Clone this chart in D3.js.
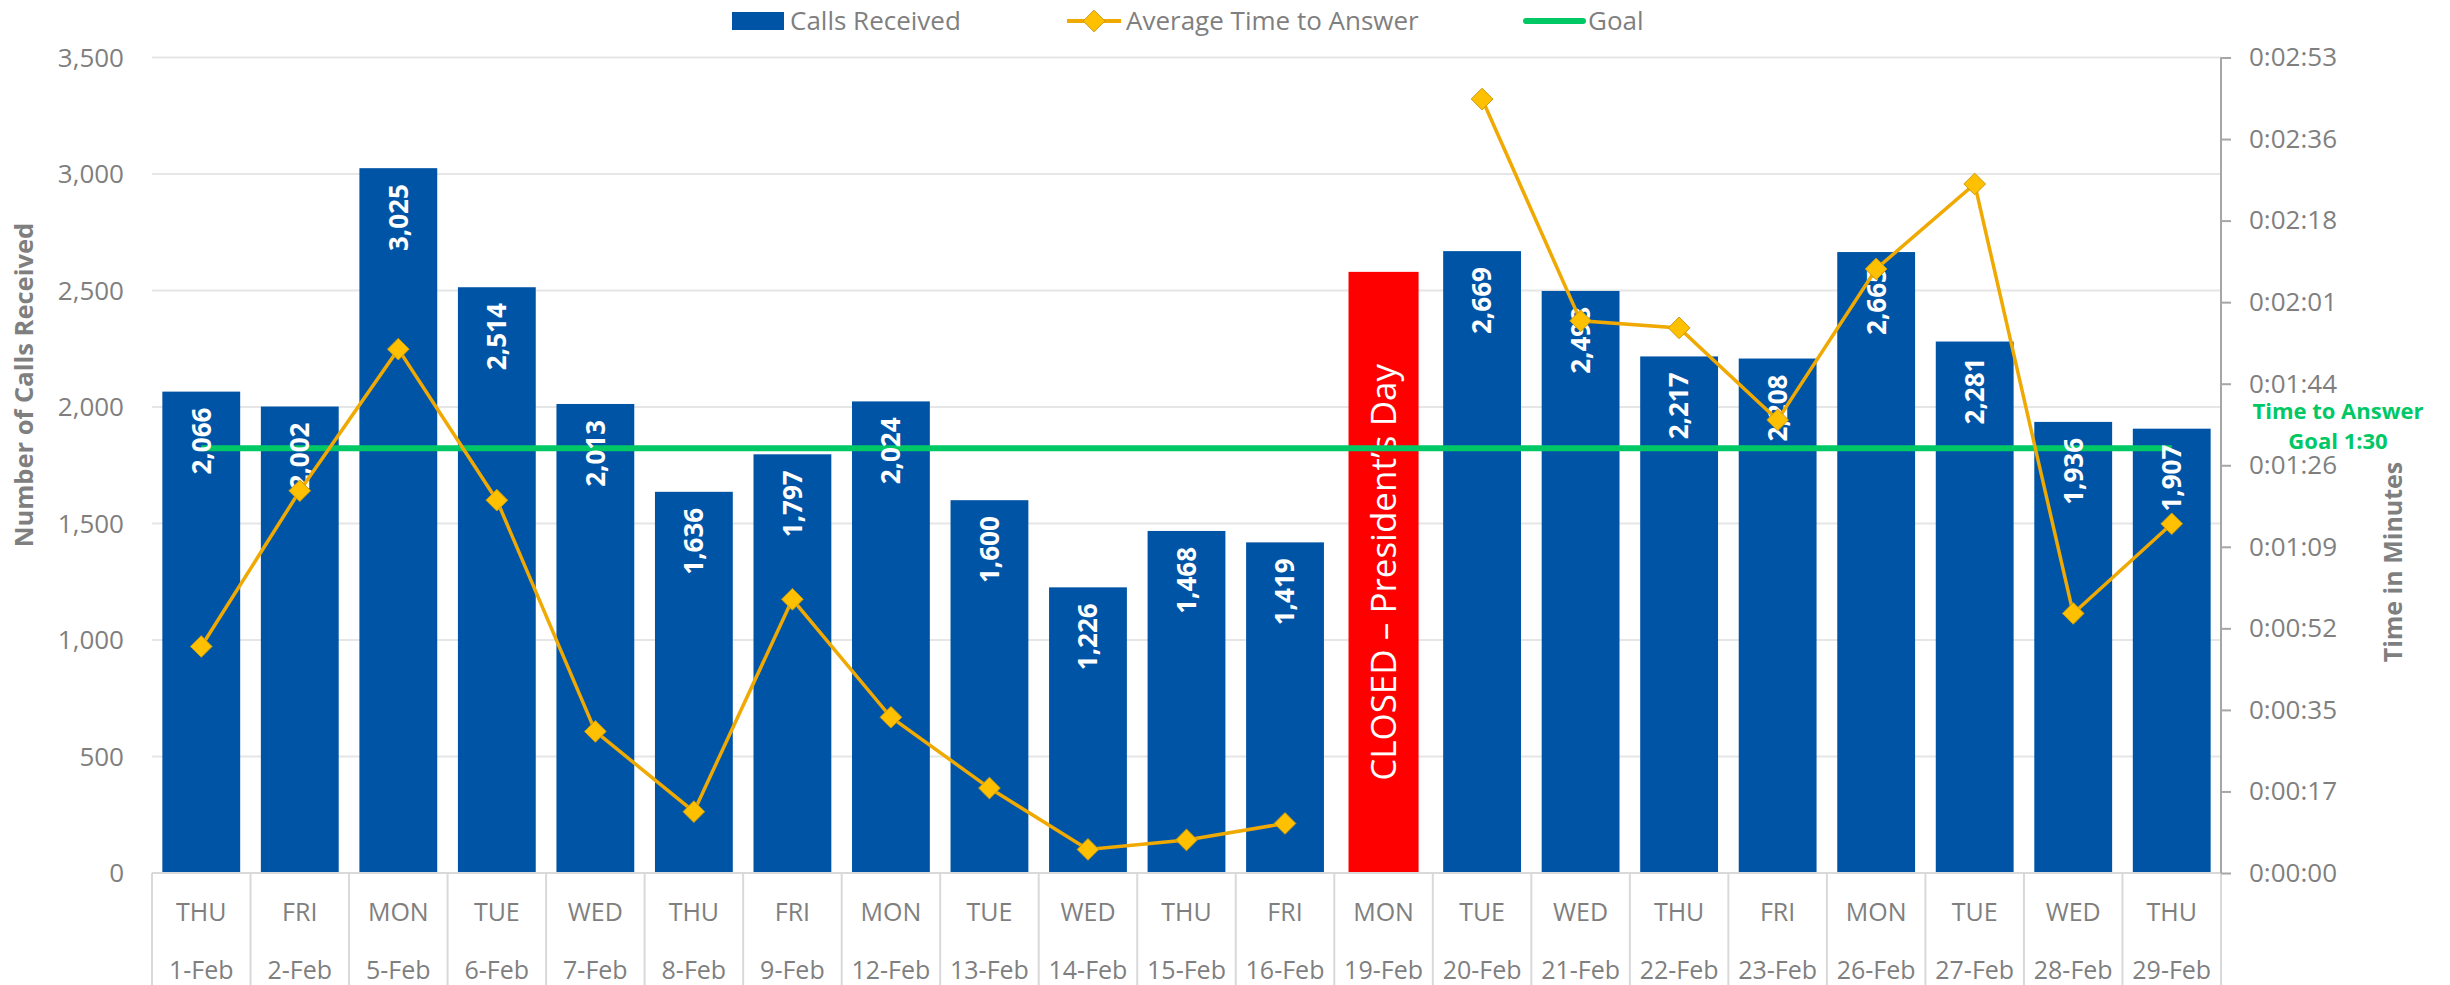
<!DOCTYPE html>
<html>
<head>
<meta charset="utf-8">
<script src="https://cdn.jsdelivr.net/npm/d3@7"></script>
<style>
  body { margin: 0; background: #fff; }
  text { font-family: "Open Sans", sans-serif; }
</style>
</head>
<body>
<svg id="chart" width="2450" height="985"></svg>
<script>
"use strict";

// values
var days = ["THU","FRI","MON","TUE","WED","THU","FRI","MON","TUE","WED","THU","FRI","MON","TUE","WED","THU","FRI","MON","TUE","WED","THU"];
var dates = ["1-Feb","2-Feb","5-Feb","6-Feb","7-Feb","8-Feb","9-Feb","12-Feb","13-Feb","14-Feb","15-Feb","16-Feb","19-Feb","20-Feb","21-Feb","22-Feb","23-Feb","26-Feb","27-Feb","28-Feb","29-Feb"];
var calls = [2066, 2002, 3025, 2514, 2013, 1636, 1797, 2024, 1600, 1226, 1468, 1419, null, 2669, 2498, 2217, 2208, 2665, 2281, 1936, 1907];
// average time to answer, seconds
var answerSecs = [48, 81, 111, 79, 30, 13, 58, 33, 18, 5, 7, 10.5, null, 164, 117, 115.5, 96, 128, 146, 55, 74];
var goalSecs = 90;
var closedIndex = 12;
var closedHeight = 2580;
var closedLabel = "CLOSED \u2013 President\u2019s Day";
var leftTicks = [0, 500, 1000, 1500, 2000, 2500, 3000, 3500];
var rightTicks = [0, 17.28, 34.56, 51.84, 69.12, 86.4, 103.68, 120.96, 138.24, 155.52, 172.8];

var BLUE = "#0054a6", GOLD = "#efa900", MARK = "#ffc000", GREEN = "#00c864", GREY = "#7f7f7f";

var svg = d3.select("#chart");
var plotL = 152, plotR = 2221, plotT = 57.5, plotB = 873;

var x = d3.scaleBand().domain(d3.range(days.length)).range([plotL, plotR])
  .paddingInner(0.21).paddingOuter(0.105);
var y = d3.scaleLinear().domain([0, 3500]).range([plotB, plotT]);
var y2 = d3.scaleLinear().domain([0, 172.8]).range([plotB, plotT]);

function cx(i) { return x(i) + x.bandwidth() / 2; }

function fmtTime(s) {
  s = Math.round(s);
  var m = Math.floor(s / 60), r = s % 60;
  return "0:" + (m < 10 ? "0" : "") + m + ":" + (r < 10 ? "0" : "") + r;
}

var barIdx = d3.range(calls.length).filter(function(i) { return calls[i] != null; });
var markIdx = d3.range(answerSecs.length).filter(function(i) { return answerSecs[i] != null; });

// gridlines
svg.append("g").selectAll("line").data(leftTicks.slice(1)).enter().append("line")
  .attr("x1", plotL).attr("x2", plotR)
  .attr("y1", function(d) { return y(d); }).attr("y2", function(d) { return y(d); })
  .attr("stroke", "#e6e6e6").attr("stroke-width", 2);

// left tick labels
svg.append("g").selectAll("text").data(leftTicks).enter().append("text")
  .attr("x", 124).attr("y", function(d) { return y(d); }).attr("dy", "0.35em")
  .attr("text-anchor", "end").attr("fill", GREY).style("font-size", "26px")
  .text(d3.format(","));

// bars
svg.append("g").selectAll("rect").data(barIdx).enter().append("rect")
  .attr("x", function(i) { return x(i); })
  .attr("width", x.bandwidth())
  .attr("y", function(i) { return y(calls[i]); })
  .attr("height", function(i) { return plotB - y(calls[i]); })
  .attr("fill", BLUE);

// closed day
var cw = x.bandwidth() * 0.9;
svg.append("rect")
  .attr("x", cx(closedIndex) - cw / 2).attr("width", cw)
  .attr("y", y(closedHeight)).attr("height", plotB - y(closedHeight))
  .attr("fill", "#ff0000");
svg.append("text")
  .attr("transform", "translate(" + cx(closedIndex) + "," + (y(closedHeight) + plotB) / 2 + ") rotate(-90)")
  .attr("text-anchor", "middle").attr("dy", "0.35em")
  .attr("fill", "#fff").style("font-size", "35px")
  .text(closedLabel);

// goal line
svg.append("line")
  .attr("x1", cx(0)).attr("x2", cx(days.length - 1))
  .attr("y1", y2(goalSecs)).attr("y2", y2(goalSecs))
  .attr("stroke", GREEN).attr("stroke-width", 6);

// bar labels
svg.append("g").selectAll("text").data(barIdx).enter().append("text")
  .attr("transform", function(i) {
    return "translate(" + cx(i) + "," + (y(calls[i]) + 16) + ") rotate(-90)";
  })
  .attr("text-anchor", "end").attr("dy", "0.36em")
  .attr("fill", "#fff").style("font-size", "26px").style("font-weight", "bold")
  .text(function(i) { return d3.format(",")(calls[i]); });

// average time line
var line = d3.line()
  .defined(function(d) { return d != null; })
  .x(function(d, i) { return cx(i); })
  .y(function(d) { return y2(d); });
svg.append("path").datum(answerSecs)
  .attr("d", line).attr("fill", "none").attr("stroke", GOLD).attr("stroke-width", 3.5);

var diamond = d3.symbol().type(d3.symbolDiamond2).size(300);
svg.append("g").selectAll("path").data(markIdx).enter().append("path")
  .attr("d", diamond)
  .attr("transform", function(i) { return "translate(" + cx(i) + "," + y2(answerSecs[i]) + ")"; })
  .attr("fill", MARK).attr("stroke", "#c99a10").attr("stroke-width", 1);

// x axis
svg.append("line").attr("x1", plotL).attr("x2", plotR).attr("y1", plotB).attr("y2", plotB)
  .attr("stroke", "#d9d9d9").attr("stroke-width", 2);
var bounds = d3.range(days.length + 1).map(function(i) { return plotL + (plotR - plotL) * i / days.length; });
svg.append("g").selectAll("line").data(bounds).enter().append("line")
  .attr("x1", function(d) { return d; }).attr("x2", function(d) { return d; })
  .attr("y1", plotB).attr("y2", 985)
  .attr("stroke", "#d9d9d9").attr("stroke-width", 2);
svg.append("g").selectAll("text").data(days).enter().append("text")
  .attr("x", function(d, i) { return cx(i); }).attr("y", 912).attr("dy", "0.35em")
  .attr("text-anchor", "middle").attr("fill", GREY).style("font-size", "25px")
  .text(function(d) { return d; });
svg.append("g").selectAll("text").data(dates).enter().append("text")
  .attr("x", function(d, i) { return cx(i); }).attr("y", 970).attr("dy", "0.35em")
  .attr("text-anchor", "middle").attr("fill", GREY).style("font-size", "25px")
  .text(function(d) { return d; });

// right axis
var rAxis = svg.append("g").attr("transform", "translate(" + plotR + ",0)")
  .call(d3.axisRight(y2).tickValues(rightTicks).tickSize(10).tickPadding(18).tickFormat(fmtTime));
rAxis.select(".domain").attr("stroke", "#a6a6a6").attr("stroke-width", 2).attr("d", "M0," + plotT + "V" + plotB);
rAxis.selectAll(".tick line").attr("stroke", "#a6a6a6").attr("stroke-width", 2);
rAxis.selectAll(".tick text").attr("fill", GREY).style("font-size", "26px").style("font-family", "Open Sans");

// axis titles
svg.append("text").attr("transform", "translate(24,385) rotate(-90)")
  .attr("text-anchor", "middle").attr("dy", "0.35em")
  .attr("fill", GREY).style("font-size", "25.5px").style("font-weight", "bold")
  .text("Number of Calls Received");
svg.append("text").attr("transform", "translate(2393,562) rotate(-90)")
  .attr("text-anchor", "middle").attr("dy", "0.35em")
  .attr("fill", GREY).style("font-size", "25px").style("font-weight", "bold")
  .text("Time in Minutes");

// goal note
svg.append("text").attr("x", 2338).attr("y", 411).attr("dy", "0.35em")
  .attr("text-anchor", "middle").attr("fill", GREEN).style("font-size", "22px").style("font-weight", "bold")
  .text("Time to Answer");
svg.append("text").attr("x", 2338).attr("y", 441).attr("dy", "0.35em")
  .attr("text-anchor", "middle").attr("fill", GREEN).style("font-size", "22px").style("font-weight", "bold")
  .text("Goal 1:30");

// legend
var lg = svg.append("g");
lg.append("rect").attr("x", 732).attr("y", 12).attr("width", 52).attr("height", 18).attr("fill", BLUE);
lg.append("text").attr("x", 790).attr("y", 21).attr("dy", "0.35em").attr("fill", GREY).style("font-size", "26px").text("Calls Received");
lg.append("line").attr("x1", 1067).attr("x2", 1121).attr("y1", 21).attr("y2", 21).attr("stroke", GOLD).attr("stroke-width", 4);
lg.append("path").attr("d", diamond).attr("transform", "translate(1094,21)").attr("fill", MARK).attr("stroke", "#c99a10");
lg.append("text").attr("x", 1126).attr("y", 21).attr("dy", "0.35em").attr("fill", GREY).style("font-size", "26px").text("Average Time to Answer");
lg.append("line").attr("x1", 1526).attr("x2", 1583).attr("y1", 21).attr("y2", 21).attr("stroke", GREEN).attr("stroke-width", 6).attr("stroke-linecap", "round");
lg.append("text").attr("x", 1588).attr("y", 21).attr("dy", "0.35em").attr("fill", GREY).style("font-size", "26px").text("Goal");
</script>
</body>
</html>
